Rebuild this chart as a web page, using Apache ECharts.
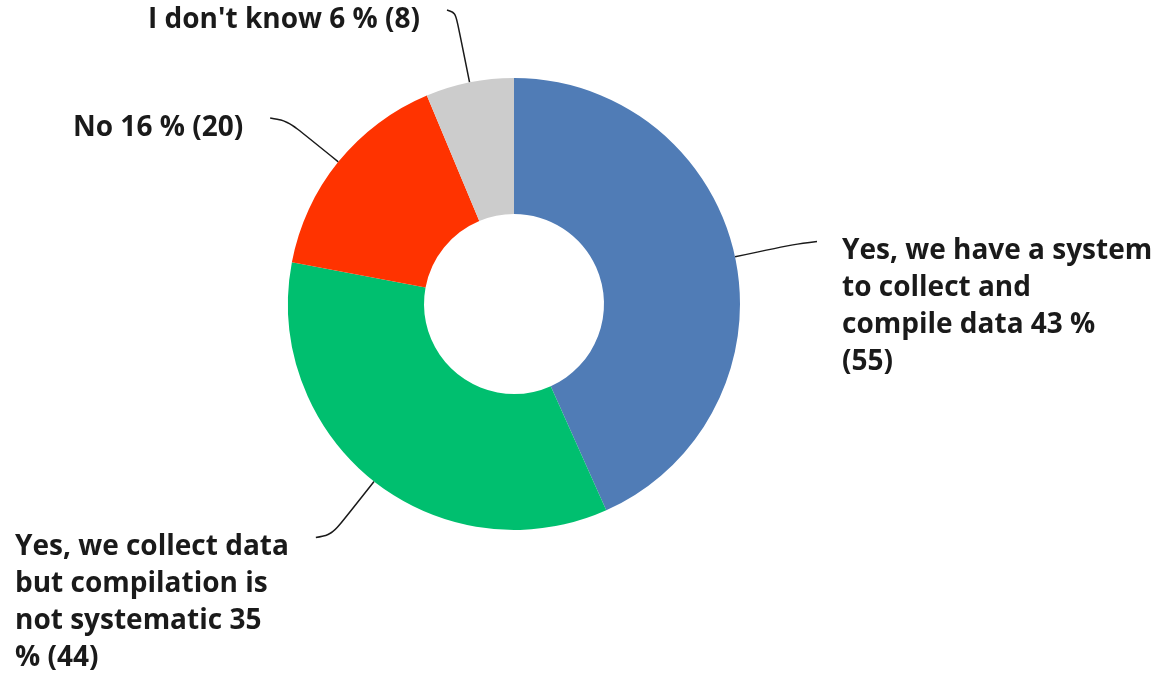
<!DOCTYPE html>
<html>
<head>
<meta charset="utf-8">
<script src="https://cdn.jsdelivr.net/npm/echarts@6/dist/echarts.min.js"></script>
<style>
html,body{margin:0;padding:0;background:#fff;}
#chart{width:1155px;height:675px;}
</style>
</head>
<body>
<div id="chart"></div>
<script>
const categories = [
  "Yes, we have a system to collect and compile data",
  "Yes, we collect data but compilation is not systematic",
  "No",
  "I don't know"
];
const values = [55, 44, 20, 8];
const colors = ["#507CB6", "#00BF6F", "#FF3300", "#CCCCCC"];
// number of words on each wrapped label line (null = single line)
const wordsPerLine = [[5, 3, 4, 1], [4, 3, 3, 2], null, null];

const FONT_SIZE = 28;
const LINE_H = 37;

const labelPlacement = [
  {x: 842, y: 233, align: 'left', verticalAlign: 'top'},
  {x: 15, y: 529, align: 'left', verticalAlign: 'top'},
  {x: 73, y: 128, align: 'left', verticalAlign: 'middle'},
  {x: 420, y: 20, align: 'right', verticalAlign: 'middle'}
];

function wrapWords(text, counts) {
  if (!counts) return text;
  const words = text.split(' ');
  const lines = [];
  let k = 0;
  counts.forEach(n => { lines.push(words.slice(k, k + n).join(' ')); k += n; });
  if (k < words.length) lines.push(words.slice(k).join(' '));
  return lines.filter(l => l).join('\n');
}

const chart = echarts.init(document.getElementById('chart'));
chart.setOption({
  animation: false,
  series: [{
    type: 'pie',
    center: [514, 304],
    radius: [90, 226],
    startAngle: 90,
    clockwise: true,
    percentPrecision: 0,
    avoidLabelOverlap: false,
    data: categories.map((c, i) => ({
      name: c,
      value: values[i],
      itemStyle: {color: colors[i]}
    })),
    label: {
      show: true,
      position: 'outside',
      formatter: p => wrapWords(p.name + ' ' + p.percent + ' % (' + p.value + ')', wordsPerLine[p.dataIndex]),
      fontFamily: 'Open Sans',
      fontWeight: 'bold',
      fontSize: FONT_SIZE,
      lineHeight: LINE_H,
      color: '#1a1a1a'
    },
    labelLine: {
      show: true,
      smooth: 0.35,
      length: 20,
      length2: 20,
      lineStyle: {color: '#1a1a1a', width: 1.5}
    },
    labelLayout: function (params) {
      const p = labelPlacement[params.dataIndex];
      const w = params.labelRect.width;
      const left = p.align === 'left' ? p.x : p.x - w;
      const right = left + w;
      const firstCenter = p.verticalAlign === 'top' ? p.y + LINE_H / 2 : p.y;
      const out = {x: p.x, y: p.y, align: p.align, verticalAlign: p.verticalAlign};
      const pts = params.labelLinePoints;
      if (pts && pts.length >= 2) {
        const p0 = pts[0];
        let dx = pts[1][0] - p0[0], dy = pts[1][1] - p0[1];
        const len = Math.sqrt(dx * dx + dy * dy) || 1;
        dx /= len; dy /= len;
        const end = [dx > 0 ? left - 25 : right + 27, firstCenter - 10];
        let L = (Math.abs(p0[1] - end[1]) - 3) / Math.max(Math.abs(dy), 1e-3);
        const Lx = (Math.abs(end[0] - p0[0]) - 8) / Math.max(Math.abs(dx), 1e-3);
        L = Math.max(0, Math.min(L, Lx));
        const p1 = [p0[0] + dx * L, p0[1] + dy * L];
        out.labelLinePoints = [p0, p1, end];
      }
      return out;
    },
    emphasis: {disabled: true}
  }]
});
</script>
</body>
</html>
